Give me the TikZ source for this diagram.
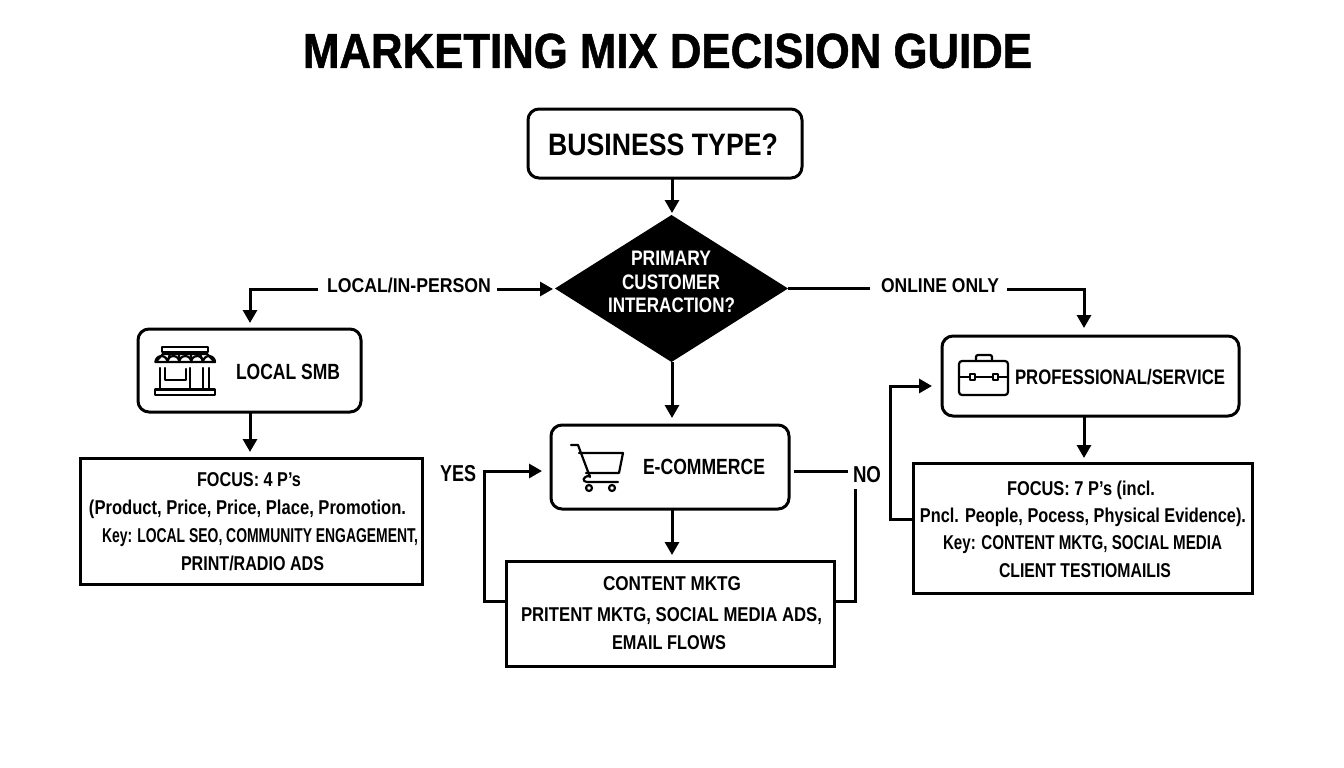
\documentclass[tikz,border=0pt]{standalone}
\usepackage{graphicx}
\usepackage{fontspec}
\setmainfont{Liberation Sans}
\newfontfamily\titlefont[FakeBold=1.2]{Liberation Sans Bold}
\usetikzlibrary{arrows.meta,shapes.geometric}
% \fitw{width}{size}{text}: bold text of a given size, squeezed to a given width; the box is one cap height tall
\newcommand{\fitw}[3]{\resizebox{#1pt}{\height}{\fontsize{#2pt}{#2pt}\selectfont\bfseries\rule{0pt}{.716em}\smash{#3}}}
\tikzset{
  conn/.style={line width=3pt,draw=black,line join=miter},
  arr/.style={conn,-{Triangle[width=14pt,length=13pt]}},
  pill/.style={draw=black,line width=3pt,rounded corners=11pt,fill=white,inner sep=0pt,outer sep=0pt,anchor=north west},
  plainbox/.style={draw=black,line width=3pt,fill=white,inner sep=0pt,outer sep=0pt,anchor=north west},
  txt/.style={inner sep=0pt,text=black},
  icon/.style={draw=black,line width=2.2pt,line join=round,line cap=round},
  dec/.style={diamond,fill=black,inner sep=0pt,outer sep=0pt,minimum width=233pt,minimum height=147pt,aspect=1.58}
}
\begin{document}
\begin{tikzpicture}[x=1pt,y=-1pt]
\useasboundingbox[fill=white] (0,0) rectangle (1344,768);
\node[txt] (title) at (667.5,50.5) {\resizebox{729pt}{\height}{\fontsize{49pt}{49pt}\selectfont\titlefont\rule{0pt}{.716em}MARKETING MIX DECISION GUIDE}};
% nodes
\node[pill,minimum width=274pt,minimum height=69pt] (biz) at (528,109) {};
\node[txt] (biztxt) at (663,144) {\fitw{230}{31}{BUSINESS TYPE?}};
\node[dec] (dia) at (671.5,288.5) {};
\node[txt,text=white] (d1) at (671,257.5) {\fitw{80}{21}{PRIMARY}};
\node[txt,text=white] (d2) at (671,282) {\fitw{98}{21}{CUSTOMER}};
\node[txt,text=white] (d3) at (671.5,304.5) {\fitw{127}{21}{INTERACTION?}};
\node[pill,minimum width=223pt,minimum height=83pt] (smb) at (138,329) {};
\node[txt] (smbtxt) at (288,371.5) {\fitw{104}{22}{LOCAL SMB}};
\node[plainbox,minimum width=342pt,minimum height=126pt] (lbox) at (80,458) {};
\node[txt] (l1) at (249,479.5) {\fitw{104}{20}{FOCUS: 4 P's}};
\node[txt] (l2) at (247.5,507) {\fitw{317}{20}{(Product, Price, Price, Place, Promotion.}};
\node[txt] (l3) at (260,535.5) {\fitw{316}{20}{Key: LOCAL SEO, COMMUNITY ENGAGEMENT,}};
\node[txt] (l4) at (252.5,563) {\fitw{143}{20}{PRINT/RADIO ADS}};
\node[pill,minimum width=238pt,minimum height=84pt] (eco) at (551,425) {};
\node[txt] (ecotxt) at (704,466.5) {\fitw{122}{22}{E-COMMERCE}};
\node[plainbox,minimum width=328pt,minimum height=105pt] (cbox) at (506,561) {};
\node[txt] (c1) at (672,583) {\fitw{138}{20}{CONTENT MKTG}};
\node[txt] (c2) at (671.5,614) {\fitw{301}{20}{PRITENT MKTG, SOCIAL MEDIA ADS,}};
\node[txt] (c3) at (669,642.5) {\fitw{114}{20}{EMAIL FLOWS}};
\node[pill,minimum width=297pt,minimum height=80pt] (pro) at (942,336) {};
\node[txt] (protxt) at (1120,376.5) {\fitw{210}{21}{PROFESSIONAL/SERVICE}};
\node[plainbox,minimum width=339pt,minimum height=130pt] (pbox) at (913,463) {};
\node[txt] (p1) at (1081,488) {\fitw{148}{20}{FOCUS: 7 P's (incl.}};
\node[txt] (p2) at (1083,515) {\fitw{326}{20}{Pncl. People, Pocess, Physical Evidence).}};
\node[txt] (p3) at (1082.5,542.5) {\fitw{279}{20}{Key: CONTENT MKTG, SOCIAL MEDIA}};
\node[txt] (p4) at (1085,570) {\fitw{172}{20}{CLIENT TESTIOMAILIS}};
% labels
\node[txt] (llocal) at (409,285.5) {\fitw{164}{20}{LOCAL/IN-PERSON}};
\node[txt] (lonline) at (940,285.5) {\fitw{118}{20}{ONLINE ONLY}};
\node[txt] (lyes) at (458,473.5) {\fitw{36}{23}{YES}};
\node[txt] (lno) at (867,474.5) {\fitw{28}{23}{NO}};
% connector ends
\coordinate (a1) at (318,289);
\coordinate (a2) at (250,323);
\coordinate (a3) at (497,289);
\coordinate (a4) at (553,289);
\coordinate (b1) at (870,288.5);
\coordinate (b2) at (1007,289);
\coordinate (b3) at (1084,328);
\coordinate (f1) at (506,601);
\coordinate (f2) at (484,471);
\coordinate (f3) at (542,471);
\coordinate (g1) at (794,471);
\coordinate (g2) at (848,471);
\coordinate (g3) at (855,489);
\coordinate (g4) at (834,601);
\coordinate (h1) at (913,519);
\coordinate (h2) at (890,386);
\coordinate (h3) at (932,386);
\coordinate (e1) at (250,412);
\coordinate (e2) at (250,452);
\coordinate (e3) at (1084,416);
\coordinate (e4) at (1084,458);
\coordinate (e5) at (672,509);
\coordinate (e6) at (672,555);
\coordinate (e7) at (672,178);
\coordinate (e8) at (672,213);
\coordinate (e9) at (672,362);
\coordinate (e10) at (672,418);
% connectors
\draw[arr] (e7) -- (e8);
\draw[arr] (e9) -- (e10);
\draw[arr] (a1) -| (a2);
\draw[arr] (a3) -- (a4);
\draw[conn] (dia.east) -- (b1);
\draw[arr] (b2) -| (b3);
\draw[arr] (e1) -- (e2);
\draw[arr] (e3) -- (e4);
\draw[arr] (e5) -- (e6);
\draw[arr] (f1) -| (f2) -- (f3);
\draw[conn] (g1) -- (g2);
\draw[conn] (g3) |- (g4);
\draw[arr] (h1) -| (h2) -- (h3);
% store icon
\draw[icon] (162,347) rectangle (208,352);
\draw[icon] (163,354) -- (207,354) -- (215,362) -- (155.5,362) -- cycle;
\draw[icon] (155.5,362) arc[start angle=180,end angle=360,radius=5.95] arc[start angle=180,end angle=360,radius=5.95] arc[start angle=180,end angle=360,radius=5.95] arc[start angle=180,end angle=360,radius=5.95] arc[start angle=180,end angle=360,radius=5.95];
\draw[icon] (170,354) -- (167.4,362) (179,354) -- (179.3,362) (191,354) -- (191.2,362) (200,354) -- (203.1,362);
\draw[icon] (160,368) -- (160,389) (209,368) -- (209,389);
\draw[icon] (165,368) -- (165,380) -- (186,380) -- (186,369);
\draw[icon] (190,368) -- (190,389) (203,368) -- (203,389);
\draw[icon] (155,389.5) rectangle (215,395);
% cart icon
\draw[icon] (571,445) -- (578,445) -- (590,477) (579,453) -- (623,453) -- (619,473) -- (586,473);
\draw[icon] (590,476) .. controls (582,476) and (582,482) .. (587,482) -- (618,482);
\draw[icon] (589,488) circle[radius=3];
\draw[icon] (612,488) circle[radius=3];
% briefcase icon
\draw[icon,rounded corners=3pt] (959,361) rectangle (1008,395);
\draw[icon,rounded corners=2pt] (976,360) -- (976,355) -- (992,355) -- (992,360);
\draw[icon] (959,377) -- (970,377) (975,377) -- (993,377) (998,377) -- (1008,377);
\draw[icon] (970,374) rectangle (975,380);
\draw[icon] (993,374) rectangle (998,380);
\end{tikzpicture}
\end{document}
